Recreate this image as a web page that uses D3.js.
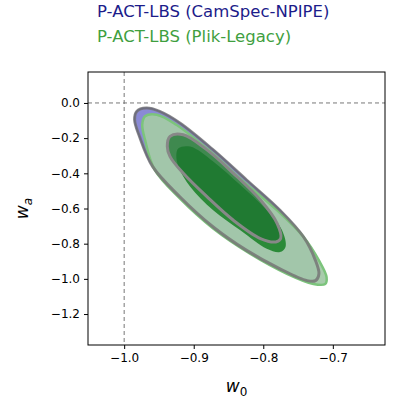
<!DOCTYPE html>
<html><head><meta charset="utf-8">
<script src="https://cdn.jsdelivr.net/npm/d3@7"></script>
<style>body{margin:0;background:#fff}text{font-family:"DejaVu Sans",sans-serif}</style>
</head><body>
<svg id="c" width="400" height="400"></svg>
<script>
var xTicks = [-1.0, -0.9, -0.8, -0.7];
var yTicks = [0.0, -0.2, -0.4, -0.6, -0.8, -1.0, -1.2];
var camspec2 = [[-0.982,-0.048],[-0.968,-0.029],[-0.949,-0.048],[-0.920,-0.114],[-0.872,-0.267],[-0.824,-0.438],[-0.776,-0.61],[-0.742,-0.762],[-0.725,-0.895],[-0.720,-0.971],[-0.725,-1.01],[-0.737,-1.01],[-0.776,-0.943],[-0.824,-0.838],[-0.872,-0.705],[-0.920,-0.533],[-0.959,-0.362],[-0.978,-0.19],[-0.985,-0.095]];
var camspec1 = [[-0.934,-0.19],[-0.915,-0.181],[-0.881,-0.267],[-0.843,-0.4],[-0.804,-0.552],[-0.780,-0.686],[-0.775,-0.771],[-0.782,-0.79],[-0.804,-0.771],[-0.843,-0.667],[-0.881,-0.533],[-0.915,-0.4],[-0.934,-0.305],[-0.938,-0.248]];
var plik2 = [[-0.970,-0.076],[-0.953,-0.067],[-0.925,-0.124],[-0.876,-0.276],[-0.828,-0.448],[-0.780,-0.610],[-0.742,-0.762],[-0.720,-0.895],[-0.709,-0.990],[-0.711,-1.029],[-0.728,-1.029],[-0.766,-0.971],[-0.819,-0.857],[-0.872,-0.714],[-0.920,-0.543],[-0.956,-0.381],[-0.970,-0.21],[-0.974,-0.124]];
var plik1 = [[-0.922,-0.257],[-0.905,-0.248],[-0.872,-0.333],[-0.833,-0.467],[-0.795,-0.610],[-0.773,-0.724],[-0.768,-0.819],[-0.776,-0.848],[-0.795,-0.829],[-0.833,-0.724],[-0.872,-0.610],[-0.905,-0.476],[-0.922,-0.362],[-0.925,-0.295]];
var legendLabels = ["P-ACT-LBS (CamSpec-NPIPE)", "P-ACT-LBS (Plik-Legacy)"];
var legendColors = ["#1c1c8a", "#3f9f3f"];

var svg = d3.select("#c");
var L = 88, R = 385, T = 72, B = 345;
var x = d3.scaleLinear().domain([-1.052, -0.625]).range([L, R]);
var y = d3.scaleLinear().domain([0.176, -1.376]).range([T, B]);
var line = d3.line().x(function(d){return x(d[0]);}).y(function(d){return y(d[1]);}).curve(d3.curveCatmullRomClosed.alpha(0.5));

var g = svg.append("g");
g.append("path").attr("d", line(camspec2)).attr("fill", "#8a8ad6").attr("stroke", "#3333aa").attr("stroke-width", 1.5);
g.append("path").attr("d", line(plik2)).attr("fill", "#a3c9a8").attr("fill-opacity", 0.95).attr("stroke", "#7cc47c").attr("stroke-width", 2.5);
g.append("path").attr("d", line(plik1)).attr("fill", "#2b8a38");
g.append("path").attr("d", line(camspec1)).attr("fill", "#1d7430").attr("fill-opacity", 0.75);
g.append("path").attr("d", line(camspec1)).attr("fill", "none").attr("stroke", "#888").attr("stroke-width", 3);
g.append("path").attr("d", line(camspec2)).attr("fill", "none").attr("stroke", "#777").attr("stroke-width", 3).attr("stroke-opacity", 0.85);

svg.append("line").attr("x1", x(-1)).attr("x2", x(-1)).attr("y1", T).attr("y2", B).attr("stroke", "#777").attr("stroke-dasharray", "4,3");
svg.append("line").attr("x1", L).attr("x2", R).attr("y1", y(0)).attr("y2", y(0)).attr("stroke", "#777").attr("stroke-dasharray", "4,3");

svg.append("g").attr("transform", "translate(0," + B + ")")
  .call(d3.axisBottom(x).tickValues(xTicks).tickSize(4).tickPadding(4).tickFormat(function(d){return d3.format(".1f")(d).replace("-", "\u2212");}))
  .call(function(a){a.select(".domain").remove(); a.selectAll("text").attr("font-size", 12).attr("font-family", "DejaVu Sans"); a.selectAll("line").attr("stroke", "#000");});
svg.append("g").attr("transform", "translate(" + L + ",0)")
  .call(d3.axisLeft(y).tickValues(yTicks).tickSize(4).tickPadding(4).tickFormat(function(d){return d3.format(".1f")(d).replace("-", "\u2212");}))
  .call(function(a){a.select(".domain").remove(); a.selectAll("text").attr("font-size", 12).attr("font-family", "DejaVu Sans"); a.selectAll("line").attr("stroke", "#000");});
svg.append("rect").attr("x", L).attr("y", T).attr("width", R - L).attr("height", B - T).attr("fill", "none").attr("stroke", "#000").attr("stroke-width", 1);

var xl = svg.append("text").attr("x", (L + R) / 2).attr("y", 392).attr("text-anchor", "middle").attr("font-size", 17).attr("font-style", "italic");
xl.append("tspan").text("w");
xl.append("tspan").text("0").attr("font-size", 12).attr("dy", 4).attr("font-style", "normal");
var yl = svg.append("text").attr("transform", "translate(28," + ((T + B) / 2) + ") rotate(-90)").attr("text-anchor", "middle").attr("font-size", 17).attr("font-style", "italic");
yl.append("tspan").text("w");
yl.append("tspan").text("a").attr("font-size", 12).attr("dy", 4);

svg.selectAll(".leg").data(legendLabels).enter().append("text")
  .attr("x", 97).attr("y", function(d, i){return 17 + i * 25;})
  .attr("font-size", 16.5).attr("fill", function(d, i){return legendColors[i];}).text(function(d){return d;});
</script>
</body></html>
